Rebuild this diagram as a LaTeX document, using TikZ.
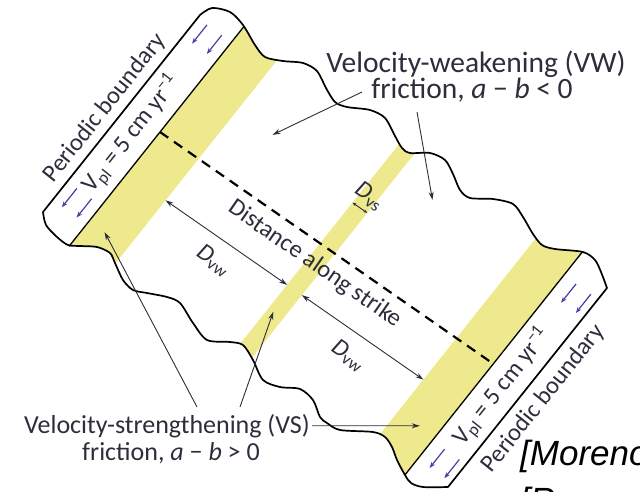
\documentclass[tikz,border=0pt]{standalone}
\usepackage{fontspec}
\setmainfont{Carlito}
\newfontfamily\citefont{Liberation Sans}
\usetikzlibrary{arrows.meta}

\definecolor{vsyellow}{RGB}{238,233,140}
\definecolor{labelgray}{RGB}{45,45,60}
\definecolor{plateblue}{RGB}{75,60,165}

\newcommand{\var}[1]{\textit{#1}}

% outline of the fault plane (image pixels, y downwards)
\def\planeoutline{(43,212) -- plot[smooth] coordinates {(200,15) (212,8) (230,12) (243,25) (255,45) (265,57) (283,61) (303,63) (317,71) (326,88) (335,102) (347,107) (370,110) (385,118) (395,136) (402,148) (410,153) (430,153) (445,160) (453,174) (460,190) (470,198) (493,199) (513,204) (523,217) (533,234) (542,245) (555,249) (583,252) (595,260) (601,272) (607,288)}
  -- plot[smooth] coordinates {(448,487) (423,487) (411,483) (405,475) (397,460) (392,447) (385,437) (373,432) (340,430) (327,423) (320,417) (313,400) (300,389) (280,387) (263,380) (253,360) (243,345) (230,342) (207,340) (193,323) (180,303) (167,297) (147,293) (133,290) (123,280) (115,263) (110,253) (97,247) (80,246) (68,245) (57,237) (46,225) (43,212)}
  -- cycle}

\begin{document}
\begin{tikzpicture}[x=1pt, y=-1pt, >={Stealth[length=8pt,width=5pt]},
    lbl/.style={text=labelgray, inner sep=0pt, font=\fontsize{24.5}{24.5}\selectfont},
    pointer/.style={->, labelgray, line width=0.9pt},
    dist/.style={<->, labelgray, line width=0.9pt},
    plate/.style={->, plateblue, line width=1.2pt, >={Stealth[length=6pt,width=4.5pt]}},
    strikeframe/.style={shift={(160,132)}, x={(0.821pt,-0.571pt)}, y={(0.623pt,0.783pt)}}]
  \useasboundingbox (0,0) rectangle (640,491);
  \clip (0,0) rectangle (640,491);

  % VS bands
  \begin{scope}
    \clip \planeoutline;
    \begin{scope}[strikeframe]
      \fill[vsyellow] (0,-300) -- (47,-300) -- (47,300) -- (0,300) -- cycle;
      \fill[vsyellow] (195,-300) -- (213,-300) -- (213,300) -- (195,300) -- cycle;
      \fill[vsyellow] (361,-300) -- (406,-300) -- (406,300) -- (361,300) -- cycle;
    \end{scope}
  \end{scope}

  % fault plane
  \draw[line width=1.7pt, line join=round] \planeoutline;

  \begin{scope}[strikeframe]
    % inner edges of the periodic boundaries
    \draw[line width=1.3pt] (0,135) -- (0,-146);
    \draw[line width=1.3pt] (406,143) -- (406,-142);
    \draw[line width=2.2pt, dash pattern=on 10pt off 7pt] (0,0) -- (406,0);

    % plate rate
    \foreach \s/\t/\u in {-30/115/-94, -12/115/-94, 421/113/-98, 439/113/-98} {
      \draw[plate] (\s,\t) -- (\s,{\t-24});
      \draw[plate] (\s,\u) -- (\s,{\u-24});
    }

    % distances
    \draw[dist] (47,-53) -- (195,-53);
    \draw[dist] (213,-53) -- (361,-53);
    \draw[dist, >={Stealth[length=4pt,width=3pt]}] (195,52) -- (213,52);

    \node[lbl, rotate=51.5] (pbleft) at (-58,-12) {Periodic boundary};
    \node[lbl, rotate=51.5] (vplleft) at (-21,-18) {V\textsubscript{pl} = 5 cm yr\textsuperscript{−1}};
    \node[lbl, rotate=51.5] (vplright) at (427,-14) {V\textsubscript{pl} = 5 cm yr\textsuperscript{−1}};
    \node[lbl, rotate=51.5] (pbright) at (467,0) {Periodic boundary};
    \node[lbl, rotate=-34.8] (strike) at (204,-20) {Distance along strike};
    \node[lbl, rotate=-34.8] (dvwa) at (122,-75) {\var{D}\textsubscript{vw}};
    \node[lbl, rotate=-34.8] (dvwb) at (287,-76) {\var{D}\textsubscript{vw}};
    \node[lbl, rotate=-34.8] (dvs) at (204,67) {\var{D}\textsubscript{vs}};

    \coordinate (vwzoneA) at (90,62);
    \coordinate (vwzoneB) at (256,100);
    \coordinate (vszoneA) at (19,-114);
    \coordinate (vszoneB) at (201,-83);
    \coordinate (vszoneC) at (387,-93);
  \end{scope}

  % friction labels
  \node[lbl, anchor=base, font=\fontsize{29.5}{29.5}\selectfont] (vwtitle) at (476,72) {Velocity-weakening (VW)};
  \node[lbl, anchor=base, font=\fontsize{29.5}{29.5}\selectfont] (vwfric) at (472,98) {friction, \var{a} − \var{b} < 0};
  \node[lbl, anchor=base, font=\fontsize{26}{26}\selectfont] (vstitle) at (167,433) {Velocity-strengthening (VS)};
  \node[lbl, anchor=base, font=\fontsize{26}{26}\selectfont] (vsfric) at (171,460) {friction, \var{a} − \var{b} > 0};

  \coordinate (vwfromA) at (362,92);
  \coordinate (vwfromB) at (417,112);
  \coordinate (vsfromA) at (197,407);
  \coordinate (vsfromB) at (240,407);
  \draw[pointer] (vwfromA) -- (vwzoneA);
  \draw[pointer] (vwfromB) -- (vwzoneB);
  \draw[pointer] (vsfromA) -- (vszoneA);
  \draw[pointer] (vsfromB) -- (vszoneB);
  \draw[pointer] ([xshift=2pt]vstitle.east) -- (vszoneC);

  % reference
  \node[anchor=base west, inner sep=0pt, font=\fontsize{35}{35}\citefont\itshape] (citeA) at (520,465) {[Moreno};
  \node[anchor=base west, inner sep=0pt, font=\fontsize{35}{35}\citefont\itshape] (citeB) at (520,512) {[Rouss};
\end{tikzpicture}
\end{document}
